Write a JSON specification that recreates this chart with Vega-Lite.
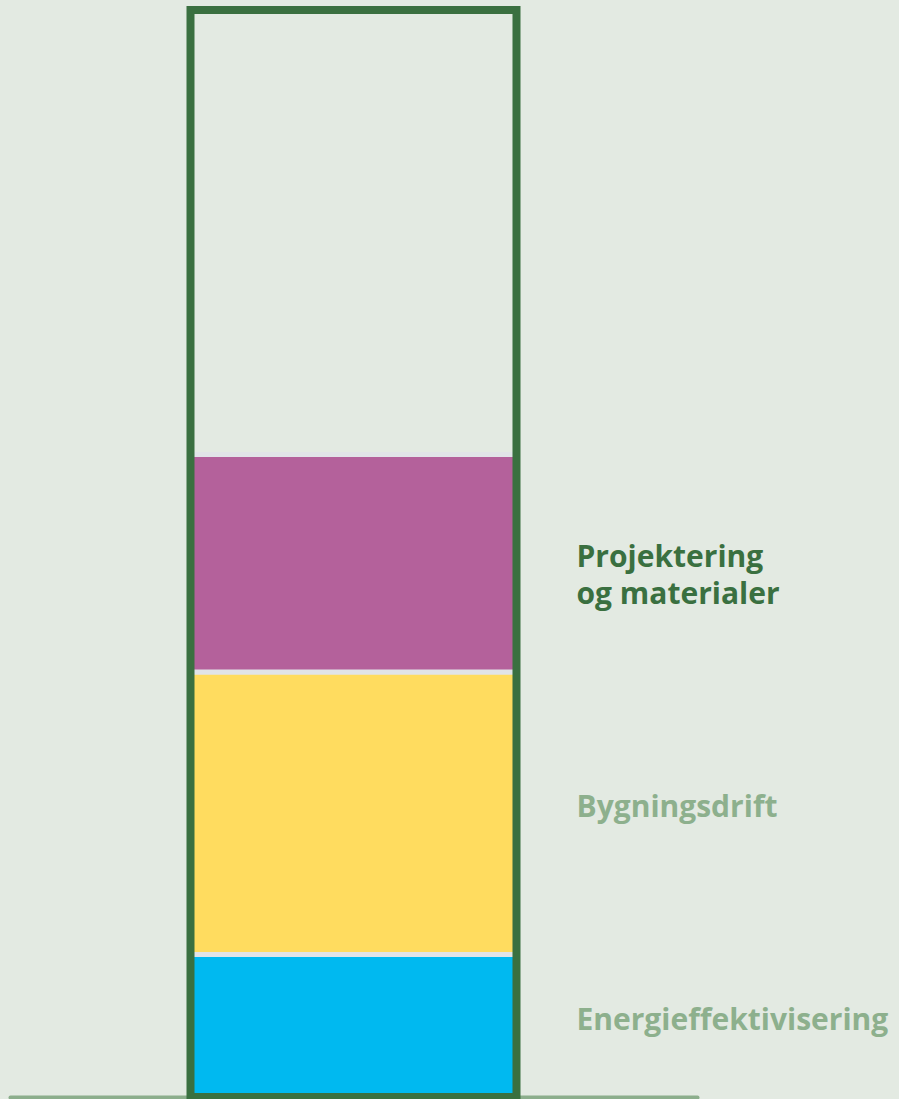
{
  "$schema": "https://vega.github.io/schema/vega-lite/v6.json",
  "width": 687,
  "height": 1087,
  "padding": {"left": 10, "top": 10, "right": 202, "bottom": 2},
  "autosize": {"type": "none"},
  "background": "#e3eae2",
  "config": {"view": {"stroke": null}},
  "data": {"values": [
    {"bar": "Utslipp", "label": "Energieffektivisering", "value": 13.1, "order": 1},
    {"bar": "Utslipp", "label": "Bygningsdrift", "value": 26.0, "order": 2},
    {"bar": "Utslipp", "label": "Projektering\nog materialer", "value": 20.0, "order": 3}
  ]},
  "encoding": {
    "x": {
      "field": "bar", "type": "nominal",
      "scale": {"paddingInner": 0, "paddingOuter": 0.5537},
      "axis": {"labels": false, "ticks": false, "title": null, "domainColor": "#8cae8c", "domainWidth": 4, "domainCap": "round"}
    }
  },
  "layer": [
    {
      "mark": {"type": "bar", "stroke": "#e1e4e8", "strokeWidth": 5},
      "encoding": {
        "y": {"field": "value", "type": "quantitative", "stack": "zero", "scale": {"domain": [0, 100], "nice": false}, "axis": null},
        "order": {"field": "order", "type": "quantitative"},
        "color": {
          "field": "label", "type": "nominal", "legend": null,
          "scale": {
            "domain": ["Energieffektivisering", "Bygningsdrift", "Projektering\nog materialer"],
            "range": ["#00b9f0", "#ffdc5f", "#b4619b"]
          }
        }
      }
    },
    {
      "data": {"values": [{"bar": "Utslipp", "total": 100}]},
      "mark": {"type": "bar", "fill": "transparent", "stroke": "#3a7040", "strokeWidth": 8},
      "encoding": {
        "y": {"field": "total", "type": "quantitative"},
        "y2": {"datum": 0}
      }
    },
    {
      "transform": [
        {"stack": "value", "groupby": ["bar"], "sort": [{"field": "order"}], "as": ["v0", "v1"]},
        {"calculate": "(datum.v0 + datum.v1) / 2", "as": "mid"}
      ],
      "mark": {"type": "text", "align": "left", "baseline": "middle", "dx": 223, "dy": -5, "font": "Open Sans", "fontWeight": "bold", "fontSize": 30, "lineBreak": "\n", "lineHeight": 37},
      "encoding": {
        "y": {"field": "mid", "type": "quantitative"},
        "text": {"field": "label", "type": "nominal"},
        "color": {"condition": {"test": "datum.order === 3", "value": "#3a7040"}, "value": "#8db08d"}
      }
    }
  ]
}
